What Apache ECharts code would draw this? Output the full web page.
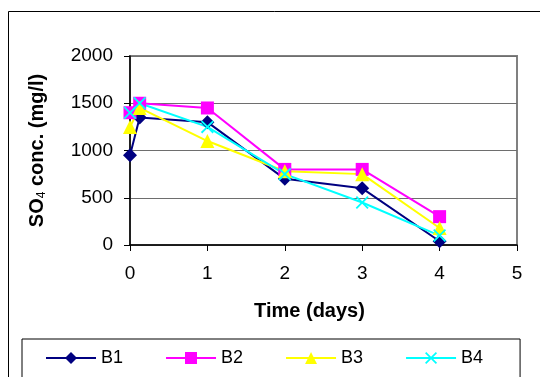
<!DOCTYPE html>
<html>
<head>
<meta charset="utf-8">
<script src="https://cdn.jsdelivr.net/npm/echarts@6/dist/echarts.min.js"></script>
<style>
  html, body { margin: 0; padding: 0; background: #fff; }
  #chart { width: 540px; height: 377px; }
</style>
</head>
<body>
<div id="chart"></div>
<script>
// tiempos de muestreo (dias)
const days = [0, 0.125, 1, 2, 3, 4];
const seriesNames = ['B1', 'B2', 'B3', 'B4'];
const b1 = [950, 1350, 1300, 700, 600, 40];
const b2 = [1400, 1500, 1450, 800, 800, 300];
const b3 = [1250, 1450, 1100, 780, 750, 180];
const b4 = [1400, 1500, 1250, 750, 450, 100];
const yTicks = [0, 500, 1000, 1500, 2000];
const xTicks = [0, 1, 2, 3, 4, 5];

const crossPath = 'path://M0,1 L1,0 L5,4 L9,0 L10,1 L6,5 L10,9 L9,10 L5,6 L1,10 L0,9 L4,5 Z';

const styles = [
    { color: '#000080', symbol: 'diamond', size: 14 },
    { color: '#FF00FF', symbol: 'rect', size: 13 },
    { color: '#FFFF00', symbol: 'triangle', size: 14 },
    { color: '#00FFFF', symbol: crossPath, size: 13 }
];

function makeSeries(name, values, st) {
    return {
        name: name,
        type: 'line',
        data: days.map((d, i) => [d, values[i]]),
        symbol: st.symbol,
        symbolSize: st.size,
        showAllSymbol: true,
        lineStyle: { width: 2, color: st.color },
        itemStyle: { color: st.color, borderWidth: 0 },
        emphasis: { disabled: true },
        animation: false
    };
}

const chart = echarts.init(document.getElementById('chart'));

const option = {
    animation: false,
    textStyle: { fontFamily: 'Liberation Sans, Arial, sans-serif' },
    graphic: [{
        type: 'rect',
        shape: { x: 8.5, y: 11.5, width: 560, height: 400 },
        style: { fill: 'none', stroke: '#000', lineWidth: 1 },
        z: -1
    }],
    grid: {
        left: 130, right: 23, top: 56, bottom: 132,
        show: true,
        borderColor: '#808080',
        borderWidth: 2,
        backgroundColor: 'transparent'
    },
    legend: {
        data: seriesNames,
        left: 22,
        top: 339,
        orient: 'horizontal',
        padding: [10, 37, 30, 23],
        itemGap: 42,
        itemWidth: 50,
        itemHeight: 15,
        borderColor: '#000',
        borderWidth: 1,
        textStyle: { fontSize: 18, color: '#000', fontFamily: 'Liberation Sans, Arial, sans-serif' }
    },
    xAxis: {
        type: 'value',
        min: 0,
        max: 5,
        interval: 1,
        name: 'Time (days)',
        nameLocation: 'middle',
        nameGap: 56,
        nameTextStyle: {
            fontSize: 20, fontWeight: 'bold', color: '#000',
            padding: [0, 28, 0, 0]
        },
        axisLine: { show: true, lineStyle: { color: '#000', width: 1.5 } },
        axisTick: { show: true, length: 6, lineStyle: { color: '#000' } },
        axisLabel: {
            fontSize: 19, color: '#000', margin: 19,
            formatter: v => xTicks.includes(v) ? String(v) : ''
        },
        splitLine: { show: false }
    },
    yAxis: {
        type: 'value',
        min: 0,
        max: 2000,
        interval: 500,
        name: '{a|SO}{s|4}{a| conc. (mg/l)}',
        nameLocation: 'middle',
        nameMoveOverlap: false,
        nameGap: 82,
        nameTextStyle: {
            rich: {
                a: { fontSize: 20, fontWeight: 'bold', color: '#000', fontFamily: 'Liberation Sans, Arial, sans-serif' },
                s: { fontSize: 12, fontWeight: 'normal', color: '#000', padding: [10, 0, 0, 0], fontFamily: 'Liberation Sans, Arial, sans-serif' }
            }
        },
        axisLine: { show: true, lineStyle: { color: '#000', width: 1.5 } },
        axisTick: { show: true, length: 6, lineStyle: { color: '#000' } },
        axisLabel: {
            fontSize: 19, color: '#000', margin: 17,
            formatter: v => yTicks.includes(v) ? String(v) : ''
        },
        splitLine: { show: true, lineStyle: { color: '#6e6e6e', width: 1 } }
    },
    series: [
        makeSeries('B1', b1, styles[0]),
        makeSeries('B2', b2, styles[1]),
        makeSeries('B3', b3, styles[2]),
        makeSeries('B4', b4, styles[3])
    ]
};

chart.setOption(option);

window.addEventListener('resize', function() {
    chart.resize();
});
</script>
</body>
</html>
